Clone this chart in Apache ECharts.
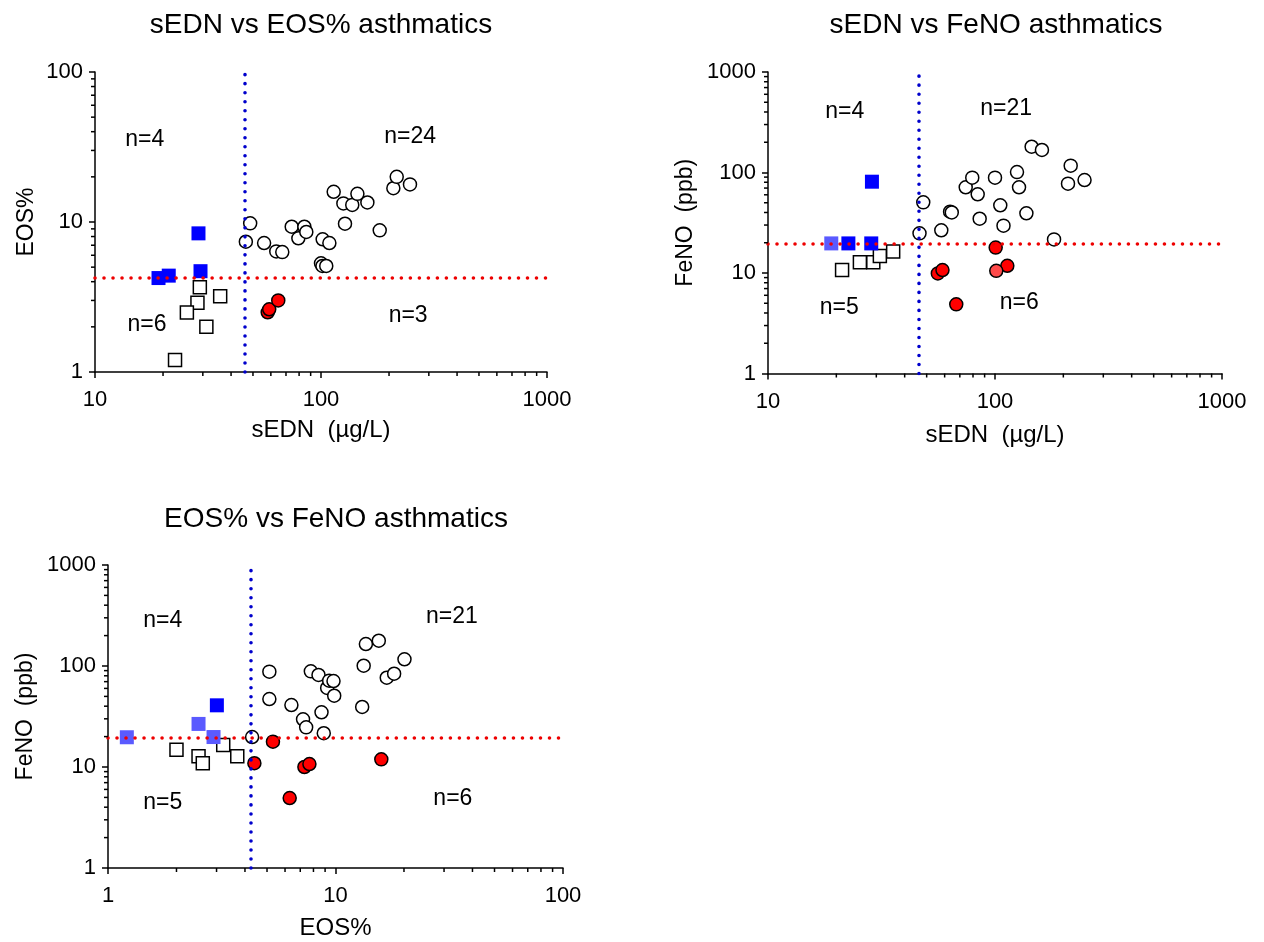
<!DOCTYPE html>
<html>
<head>
<meta charset="utf-8">
<script src="https://cdn.jsdelivr.net/npm/echarts@6/dist/echarts.min.js"></script>
<style>
  html, body { margin: 0; padding: 0; background: #fff; }
  #main { width: 1264px; height: 942px; }
</style>
</head>
<body>
<div id="main"></div>
<script>
// cut-off lines
const sednCut = 46
const eosCut = 4.25
const fenoCut = 19.5

// panel 1: sEDN vs EOS%
const blueSq1 = [[28.7, 8.4], [29.3, 4.7], [19.1, 4.23], [21.2, 4.39]]
const openSq1 = [[29.1, 3.67], [28.4, 2.9], [25.5, 2.49], [31.1, 2.0], [35.8, 3.2], [22.6, 1.2]]
const redCirc1 = [[58.1, 2.5], [59.0, 2.62], [64.7, 3.0]]
const openCirc1 = [[46.5, 7.39], [48.6, 9.8], [56, 7.24], [63.4, 6.37], [67.4, 6.3], [74.2, 9.3],
    [79.4, 7.79], [84.4, 9.3], [86.1, 8.58], [101.7, 7.67], [108.9, 7.24], [100, 5.3],
    [101.5, 5.09], [105.5, 5.09], [113.8, 15.9], [125.6, 13.3], [137.5, 13.0], [144.9, 15.4],
    [127.7, 9.74], [160.4, 13.5], [181.9, 8.8], [209, 16.8], [216.3, 20.0], [247.6, 17.8]]
const counts1 = [['n=4', 16.6, 35.2], ['n=24', 248, 36.9], ['n=6', 17, 2.06], ['n=3', 243, 2.36]]

// panel 2: sEDN vs FeNO
const blueSq2 = [[28.7, 81], [22.6, 19.7], [28.5, 19.7]]
const lightBlueSq2 = [[19.0, 19.7]]
const openSq2 = [[21.2, 10.7], [25.4, 12.8], [29.1, 12.8], [31.1, 14.8], [35.6, 16.4]]
const redCirc2 = [[56, 9.9], [58.7, 10.7], [100.7, 17.9], [113.3, 11.8], [67.5, 4.88]]
const lightRedCirc2 = [[101.3, 10.5]]
const openCirc2 = [[46.5, 24.8], [48.3, 50.5], [58, 26.6], [63.4, 40.7], [64.5, 40], [74.3, 71.3],
    [79.4, 88.8], [83.9, 60.7], [85.6, 34.7], [100, 88.8], [105.5, 47.2], [109, 29.6],
    [125, 101], [127.6, 71.3], [137.5, 39.3], [145, 180.6], [161, 167.5], [182, 21.6],
    [209.7, 77.4], [215.5, 117], [248, 84.2]]
const counts2 = [['n=4', 21.8, 406], ['n=21', 112, 435], ['n=5', 20.6, 4.52], ['n=6', 128, 5.05]]

// panel 3: EOS% vs FeNO
const blueSq3 = [[3.01, 40.8]]
const lightBlueSq3 = [[1.21, 19.7], [2.5, 26.7], [2.91, 19.8]]
const openSq3 = [[2.0, 14.8], [2.5, 12.8], [2.61, 10.9], [3.21, 16.5], [3.7, 12.8]]
const redCirc3 = [[4.4, 10.9], [5.31, 17.8], [6.29, 4.93], [7.3, 10], [7.68, 10.7], [15.9, 11.9]]
const openCirc3 = [[4.3, 19.8], [5.12, 87.9], [5.12, 47.1], [6.4, 41.1], [7.2, 29.7], [7.43, 24.7],
    [7.79, 88.6], [8.42, 81.5], [8.68, 34.8], [8.88, 21.6], [9.19, 60.6], [9.38, 71.6],
    [9.8, 71], [9.87, 50.8], [13.1, 39.3], [13.3, 100.7], [13.6, 165], [15.5, 178],
    [16.8, 76.6], [18.1, 83.9], [20.1, 116.5]]
const counts3 = [['n=4', 1.74, 283], ['n=21', 32.5, 308], ['n=5', 1.74, 4.47], ['n=6', 32.8, 4.9]]

const minorSteps = [2, 3, 4, 5, 6, 7, 8, 9]

const FONT = 'Liberation Sans, Arial, sans-serif'
const BLUE = '#0000ff'
const LIGHT_BLUE = '#5a5aff'
const RED = '#ff0000'
const LIGHT_RED = '#ff4a4a'

const minorValues = (lo, hi) => {
    const out = []
    for (let d = lo; d < hi; d *= 10) {
        minorSteps.forEach(s => out.push(d * s))
    }
    return out
}

// plain numbers, no thousands separator
const plainLabel = v => String(Math.round(v))

const makeX = (idx, range, name, gap) => ({
    type: 'log', gridIndex: idx, min: range[0], max: range[1], logBase: 10,
    name: name, nameLocation: 'middle', nameGap: gap,
    nameTextStyle: {fontSize: 24, color: '#000', fontFamily: FONT},
    axisLine: {onZero: false, lineStyle: {color: '#000', width: 1.5}},
    axisTick: {length: 6, lineStyle: {color: '#000', width: 1.5}},
    axisLabel: {fontSize: 22, color: '#000', fontFamily: FONT, margin: 17, formatter: plainLabel},
    splitLine: {show: false}
})

const makeY = (idx, range, name, gap) => ({
    type: 'log', gridIndex: idx, min: range[0], max: range[1], logBase: 10,
    name: name, nameLocation: 'middle', nameGap: gap,
    nameTextStyle: {fontSize: 23, color: '#000', fontFamily: FONT},
    axisLine: {onZero: false, lineStyle: {color: '#000', width: 1.5}},
    axisTick: {length: 6, lineStyle: {color: '#000', width: 1.5}},
    axisLabel: {fontSize: 22, color: '#000', fontFamily: FONT, margin: 12, formatter: plainLabel},
    splitLine: {show: false}
})

const scatter = (idx, data, symbol, fill, border, size) => ({
    type: 'scatter', xAxisIndex: idx, yAxisIndex: idx,
    symbol: symbol, symbolSize: size || 14, data: data, silent: true,
    itemStyle: {
        color: fill, opacity: 1,
        borderColor: border ? '#000' : fill,
        borderWidth: border ? 1.5 : 0
    }
})

const cutLines = (idx, xCut, yCut) => ({
    type: 'scatter', xAxisIndex: idx, yAxisIndex: idx, data: [], silent: true,
    markLine: {
        silent: true, symbol: 'none', animation: false,
        label: {show: false},
        data: [
            {xAxis: xCut, lineStyle: {color: '#0000cc', width: 3.6, type: [0.01, 9], cap: 'round', opacity: 1}},
            {yAxis: yCut, lineStyle: {color: '#ee0000', width: 3.6, type: [0.01, 9], cap: 'round', opacity: 1}}
        ]
    }
})

const countText = (idx, list) => ({
    type: 'scatter', xAxisIndex: idx, yAxisIndex: idx, silent: true,
    symbolSize: 1, itemStyle: {color: 'rgba(0,0,0,0)', opacity: 1},
    data: list.map(d => ({name: d[0], value: [d[1], d[2]]})),
    label: {
        show: true, position: 'inside', formatter: '{b}', fontSize: 23,
        color: '#000', opacity: 1, fontFamily: FONT, textBorderWidth: 0
    }
})

// minor log ticks, placed through the axes
const minorTicks = (idx, xr, yr) => {
    const data = []
    minorValues(xr[0], xr[1]).forEach(v => data.push([v, yr[0], 0]))
    minorValues(yr[0], yr[1]).forEach(v => data.push([xr[0], v, 1]))
    return {
        type: 'custom', xAxisIndex: idx, yAxisIndex: idx, silent: true, clip: false, z: 5,
        data: data,
        renderItem: (params, api) => {
            const p = api.coord([api.value(0), api.value(1)])
            const horiz = api.value(2) === 1
            return {
                type: 'line',
                shape: horiz
                    ? {x1: p[0] - 4, y1: p[1], x2: p[0], y2: p[1]}
                    : {x1: p[0], y1: p[1], x2: p[0], y2: p[1] + 4},
                style: {stroke: '#000', lineWidth: 1.5}
            }
        }
    }
}

const titleStyle = {fontSize: 28, fontWeight: 'normal', color: '#000', fontFamily: FONT}

const option = {
    animation: false,
    backgroundColor: '#fff',
    title: [
        {text: 'sEDN vs EOS% asthmatics', left: 321, top: 11, textAlign: 'center', padding: 0, textStyle: titleStyle},
        {text: 'sEDN vs FeNO asthmatics', left: 996, top: 11, textAlign: 'center', padding: 0, textStyle: titleStyle},
        {text: 'EOS% vs FeNO asthmatics', left: 336, top: 505, textAlign: 'center', padding: 0, textStyle: titleStyle}
    ],
    grid: [
        {left: 95, top: 72, width: 452, height: 300},
        {left: 768, top: 72, width: 454, height: 301.5},
        {left: 108, top: 565, width: 455, height: 303}
    ],
    xAxis: [
        makeX(0, [10, 1000], 'sEDN  (µg/L)', 46),
        makeX(1, [10, 1000], 'sEDN  (µg/L)', 50),
        makeX(2, [1, 100], 'EOS%', 48)
    ],
    yAxis: [
        makeY(0, [1, 100], 'EOS%', 57),
        makeY(1, [1, 1000], 'FeNO  (ppb)', 71),
        makeY(2, [1, 1000], 'FeNO  (ppb)', 71)
    ],
    series: [
        minorTicks(0, [10, 1000], [1, 100]),
        minorTicks(1, [10, 1000], [1, 1000]),
        minorTicks(2, [1, 100], [1, 1000]),
        cutLines(0, sednCut, eosCut),
        cutLines(1, sednCut, fenoCut),
        cutLines(2, eosCut, fenoCut),

        scatter(0, openSq1, 'rect', '#fff', true, 13),
        scatter(0, blueSq1, 'rect', BLUE, false),
        scatter(0, openCirc1, 'circle', '#fff', true, 13),
        scatter(0, redCirc1, 'circle', RED, true, 13),
        countText(0, counts1),

        scatter(1, openSq2, 'rect', '#fff', true, 13),
        scatter(1, blueSq2, 'rect', BLUE, false),
        scatter(1, lightBlueSq2, 'rect', LIGHT_BLUE, false),
        scatter(1, openCirc2, 'circle', '#fff', true, 13),
        scatter(1, redCirc2, 'circle', RED, true, 13),
        scatter(1, lightRedCirc2, 'circle', LIGHT_RED, true, 13),
        countText(1, counts2),

        scatter(2, openSq3, 'rect', '#fff', true, 13),
        scatter(2, lightBlueSq3, 'rect', LIGHT_BLUE, false),
        scatter(2, blueSq3, 'rect', BLUE, false),
        scatter(2, openCirc3, 'circle', '#fff', true, 13),
        scatter(2, redCirc3, 'circle', RED, true, 13),
        countText(2, counts3)
    ]
}

var chartDom = document.getElementById('main')
var myChart = echarts.init(chartDom)
myChart.setOption(option)
window.addEventListener('resize', () => {
    myChart.resize()
})
</script>
</body>
</html>
